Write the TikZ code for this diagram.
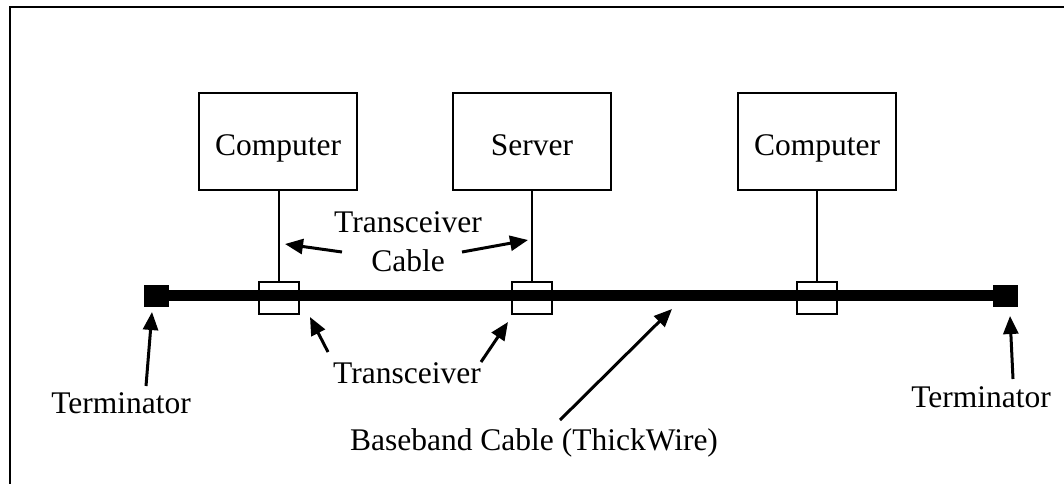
\documentclass[tikz,border=0pt]{standalone}
\usepackage{fontspec}
\setmainfont{Liberation Serif}
\usetikzlibrary{arrows.meta}
\begin{document}
\begin{tikzpicture}[x=1pt,y=-1pt,
  lbl/.style={font=\fontsize{31.5}{39}\selectfont, inner sep=0pt},
  hostbox/.style={draw, line width=2pt, minimum width=158pt, minimum height=97pt, inner sep=0pt, text height=27pt, text depth=0pt, font=\fontsize{31.5}{39}\selectfont},
  tapbox/.style={draw, line width=2pt, minimum width=40pt, minimum height=32pt, inner sep=0pt},
  termbox/.style={fill=black, minimum width=25pt, minimum height=22pt, inner sep=0pt},
  link/.style={line width=2pt},
  cable/.style={line width=11pt},
  pointer/.style={line width=3pt, -{Triangle[length=18pt,width=15pt]}}
]
\useasboundingbox (0,0) rectangle (1064,483);
% frame
\draw[line width=2.5pt] (10,490) -- (10,7) -- (1070,7);
% hosts
\node[hostbox] (c1) at (278,141.5) {Computer};
\node[hostbox] (srv) at (532,141.5) {Server};
\node[hostbox] (c3) at (817,141.5) {Computer};
% transceivers
\node[tapbox] (t1) at (279,298) {};
\node[tapbox] (t2) at (532,298) {};
\node[tapbox] (t3) at (817,298) {};
% terminators
\node[termbox] (tl) at (156.5,295.5) {};
\node[termbox] (tr) at (1005.5,295.5) {};
% cable
\draw[cable] (tl.center) -- (tr.center);
% transceiver cables
\draw[link] (c1.south -| t1.north) -- (t1.north);
\draw[link] (srv.south) -- (t2.north);
\draw[link] (c3.south) -- (t3.north);
% labels
\node[lbl, anchor=base] (lterm) at (121,413) {Terminator};
\node[lbl, anchor=base] (rterm) at (981,407) {Terminator};
\node[lbl, anchor=base] (trx) at (407,383) {Transceiver};
\node[lbl, anchor=base] (base) at (534,450) {Baseband Cable (ThickWire)};
\node[lbl, align=center] (tcab) at (408,242) {Transceiver\\Cable};
% arrow coordinates
\coordinate (a1s) at (146,386); \coordinate (a1e) at (152,312);
\coordinate (a2s) at (1013,379); \coordinate (a2e) at (1010,316);
\coordinate (a3s) at (328,352); \coordinate (a3e) at (310,317);
\coordinate (a4s) at (481,362); \coordinate (a4e) at (508,322);
\coordinate (a5s) at (342,252); \coordinate (a5e) at (285,244);
\coordinate (a6s) at (462,252); \coordinate (a6e) at (528,240);
\coordinate (a7s) at (560,420); \coordinate (a7e) at (672,309);
\draw[pointer] (a1s) -- (a1e);
\draw[pointer] (a2s) -- (a2e);
\draw[pointer] (a3s) -- (a3e);
\draw[pointer] (a4s) -- (a4e);
\draw[pointer] (a5s) -- (a5e);
\draw[pointer] (a6s) -- (a6e);
\draw[pointer] (a7s) -- (a7e);
\end{tikzpicture}
\end{document}
